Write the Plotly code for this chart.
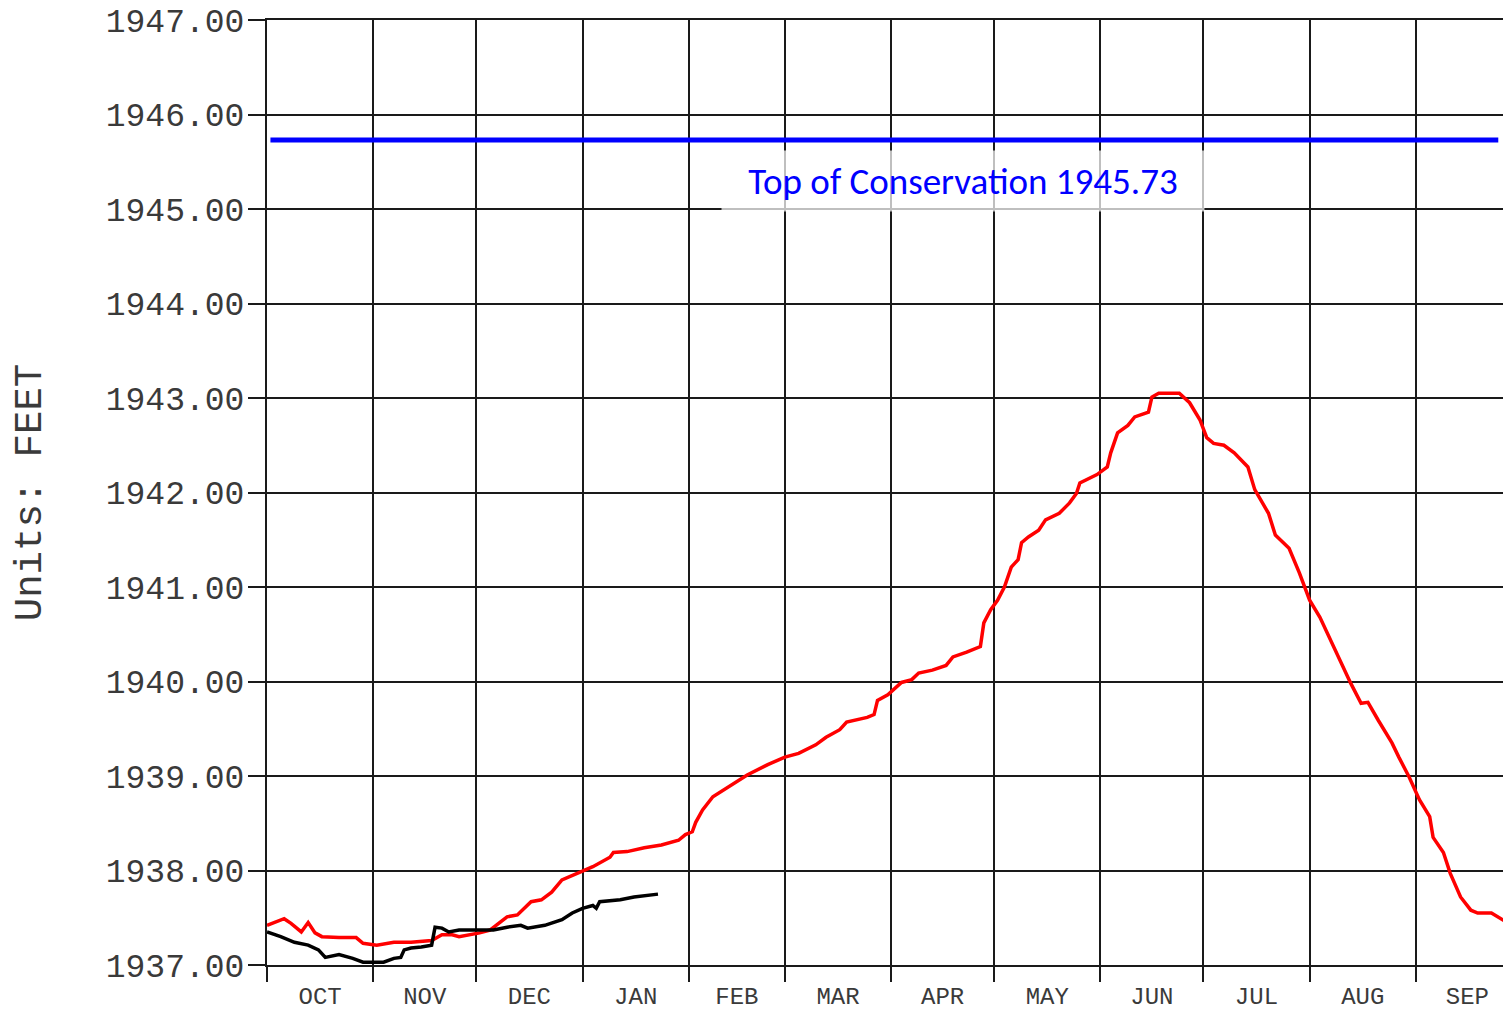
import pandas as pd
import plotly.graph_objects as go

# ---- data ----
month_starts = ["2022-10-01", "2022-11-01", "2022-12-01", "2023-01-01", "2023-02-01",
                "2023-03-01", "2023-04-01", "2023-05-01", "2023-06-01", "2023-07-01",
                "2023-08-01", "2023-09-01", "2023-10-01"]
month_labels = ["OCT", "NOV", "DEC", "JAN", "FEB", "MAR", "APR", "MAY", "JUN", "JUL", "AUG", "SEP"]
y_ticks = [1937, 1938, 1939, 1940, 1941, 1942, 1943, 1944, 1945, 1946, 1947]

red_dates = ["2022-10-01", "2022-10-06", "2022-10-08", "2022-10-11", "2022-10-13", "2022-10-15",
             "2022-10-17", "2022-10-22", "2022-10-27", "2022-10-29", "2022-11-02", "2022-11-07",
             "2022-11-12", "2022-11-18", "2022-11-21", "2022-11-24", "2022-11-26", "2022-12-02",
             "2022-12-05", "2022-12-08", "2022-12-10", "2022-12-13", "2022-12-17", "2022-12-20",
             "2022-12-23", "2022-12-26", "2022-12-31", "2023-01-04", "2023-01-09", "2023-01-10",
             "2023-01-14", "2023-01-19", "2023-01-24", "2023-01-27", "2023-01-29", "2023-01-31",
             "2023-02-02", "2023-02-03", "2023-02-04", "2023-02-05", "2023-02-08", "2023-02-13",
             "2023-02-18", "2023-02-24", "2023-03-01", "2023-03-05", "2023-03-10", "2023-03-13",
             "2023-03-17", "2023-03-19", "2023-03-25", "2023-03-27", "2023-03-28", "2023-03-31",
             "2023-04-04", "2023-04-07", "2023-04-09", "2023-04-13", "2023-04-17", "2023-04-19",
             "2023-04-23", "2023-04-27", "2023-04-28", "2023-04-30", "2023-05-02", "2023-05-04",
             "2023-05-06", "2023-05-08", "2023-05-09", "2023-05-11", "2023-05-14", "2023-05-16",
             "2023-05-20", "2023-05-23", "2023-05-25", "2023-05-26", "2023-05-29", "2023-05-31",
             "2023-06-03", "2023-06-04", "2023-06-06", "2023-06-09", "2023-06-11", "2023-06-15",
             "2023-06-16", "2023-06-18", "2023-06-24", "2023-06-27", "2023-06-30", "2023-07-02",
             "2023-07-04", "2023-07-07", "2023-07-10", "2023-07-14", "2023-07-16", "2023-07-20",
             "2023-07-22", "2023-07-26", "2023-07-29", "2023-08-01", "2023-08-04", "2023-08-08",
             "2023-08-11", "2023-08-13", "2023-08-16", "2023-08-18", "2023-08-21", "2023-08-25",
             "2023-08-27", "2023-08-30", "2023-09-02", "2023-09-05", "2023-09-06", "2023-09-09",
             "2023-09-11", "2023-09-14", "2023-09-17", "2023-09-19", "2023-09-23", "2023-09-26",
             "2023-09-28", "2023-09-30"]
red_values = [1937.42, 1937.49, 1937.44, 1937.35, 1937.45, 1937.34,
              1937.30, 1937.29, 1937.29, 1937.23, 1937.21, 1937.24,
              1937.24, 1937.26, 1937.32, 1937.32, 1937.30, 1937.34,
              1937.37, 1937.46, 1937.51, 1937.53, 1937.67, 1937.69,
              1937.77, 1937.90, 1937.98, 1938.04, 1938.14, 1938.19,
              1938.20, 1938.24, 1938.27, 1938.30, 1938.32, 1938.38,
              1938.41, 1938.51, 1938.57, 1938.64, 1938.78, 1938.90,
              1939.01, 1939.12, 1939.20, 1939.24, 1939.33, 1939.41,
              1939.49, 1939.57, 1939.62, 1939.65, 1939.80, 1939.86,
              1939.99, 1940.02, 1940.09, 1940.12, 1940.17, 1940.26,
              1940.31, 1940.37, 1940.62, 1940.76, 1940.86, 1941.00,
              1941.21, 1941.29, 1941.47, 1941.53, 1941.60, 1941.71,
              1941.78, 1941.89, 1941.99, 1942.10, 1942.16, 1942.19,
              1942.27, 1942.42, 1942.63, 1942.71, 1942.80, 1942.85,
              1943.01, 1943.05, 1943.05, 1942.95, 1942.77, 1942.58,
              1942.52, 1942.50, 1942.42, 1942.27, 1942.03, 1941.78,
              1941.55, 1941.41, 1941.15, 1940.86, 1940.68, 1940.37,
              1940.12, 1939.98, 1939.77, 1939.78, 1939.59, 1939.35,
              1939.20, 1938.99, 1938.75, 1938.57, 1938.35, 1938.19,
              1937.97, 1937.72, 1937.58, 1937.55, 1937.55, 1937.48,
              1937.44, 1937.42]

black_dates = ["2022-10-01", "2022-10-05", "2022-10-09", "2022-10-13", "2022-10-16", "2022-10-18",
               "2022-10-22", "2022-10-26", "2022-10-29", "2022-10-31", "2022-11-04", "2022-11-07",
               "2022-11-09", "2022-11-10", "2022-11-12", "2022-11-15", "2022-11-18", "2022-11-19",
               "2022-11-21", "2022-11-23", "2022-11-26", "2022-12-02", "2022-12-06", "2022-12-10",
               "2022-12-14", "2022-12-16", "2022-12-21", "2022-12-26", "2022-12-29", "2023-01-01",
               "2023-01-04", "2023-01-05", "2023-01-06", "2023-01-12", "2023-01-16", "2023-01-23"]
black_values = [1937.35, 1937.30, 1937.24, 1937.21, 1937.16, 1937.08,
                1937.11, 1937.07, 1937.03, 1937.03, 1937.03, 1937.07,
                1937.08, 1937.16, 1937.18, 1937.19, 1937.21, 1937.40,
                1937.39, 1937.35, 1937.37, 1937.37, 1937.37, 1937.40,
                1937.42, 1937.39, 1937.42, 1937.48, 1937.55, 1937.60,
                1937.63, 1937.60, 1937.67, 1937.69, 1937.72, 1937.75]

top_cons_dates = ["2022-10-02", "2023-09-25"]
top_cons_values = [1945.73, 1945.73]
top_cons_label = "Top of Conservation 1945.73"
top_cons_label_pos = ("2023-04-22", 1945.30)

x_range = ["2022-10-01", "2023-09-28 17:00"]
y_range = [1937, 1947]

# ---- derived tick positions ----
starts = pd.to_datetime(month_starts)
mids = [starts[i] + (starts[i + 1] - starts[i]) / 2 for i in range(len(starts) - 1)]

mono = "Courier New, Liberation Mono, monospace"
grid_col = "#1a1a1a"
text_col = "#3a3a3a"

fig = go.Figure()
fig.add_trace(go.Scatter(x=top_cons_dates, y=top_cons_values, mode="lines",
                         line=dict(color="#0000ff", width=5), showlegend=False))
fig.add_trace(go.Scatter(x=red_dates, y=red_values, mode="lines",
                         line=dict(color="#ff0000", width=3.5), showlegend=False))
fig.add_trace(go.Scatter(x=black_dates, y=black_values, mode="lines",
                         line=dict(color="#000000", width=3.5), showlegend=False))

fig.add_annotation(x=top_cons_label_pos[0], y=top_cons_label_pos[1], xref="x", yref="y",
                   text=top_cons_label, showarrow=False,
                   font=dict(family="Calibri, Carlito, Lato, sans-serif", size=37, color="#0000ff"),
                   bgcolor="rgba(255,255,255,0.72)", width=482, height=60, borderpad=0)

# page body adds an 8px margin, so the figure is sized to fill the rest of the window
fig.update_layout(
    width=1503, height=1003,
    margin=dict(l=259, r=0, t=12, b=46),
    paper_bgcolor="white", plot_bgcolor="white",
    xaxis=dict(
        type="date", range=x_range, automargin=False,
        tickmode="array", tickvals=mids, ticktext=month_labels,
        ticks="", showgrid=False,
        tickfont=dict(family=mono, size=24, color=text_col),
        ticklabelstandoff=8,
        showline=True, linecolor=grid_col, linewidth=2, mirror=True,
        minor=dict(tickmode="array", tickvals=month_starts, showgrid=True,
                   gridcolor=grid_col, gridwidth=2, ticks="outside",
                   ticklen=15, tickwidth=2, tickcolor=grid_col),
        zeroline=False,
    ),
    yaxis=dict(
        range=y_range, automargin=False,
        tickmode="array", tickvals=y_ticks, tickformat=".2f",
        ticks="outside", ticklen=17, tickwidth=2, tickcolor=grid_col,
        showgrid=True, gridcolor=grid_col, gridwidth=2,
        showline=True, linecolor=grid_col, linewidth=2,
        tickfont=dict(family=mono, size=33, color=text_col),
        ticklabelstandoff=-3, ticklabeloverflow="allow",
        title=dict(text="Units: FEET", font=dict(family=mono, size=39, color=text_col),
                   standoff=52),
        zeroline=False,
    ),
)

fig.write_html("out.html")
